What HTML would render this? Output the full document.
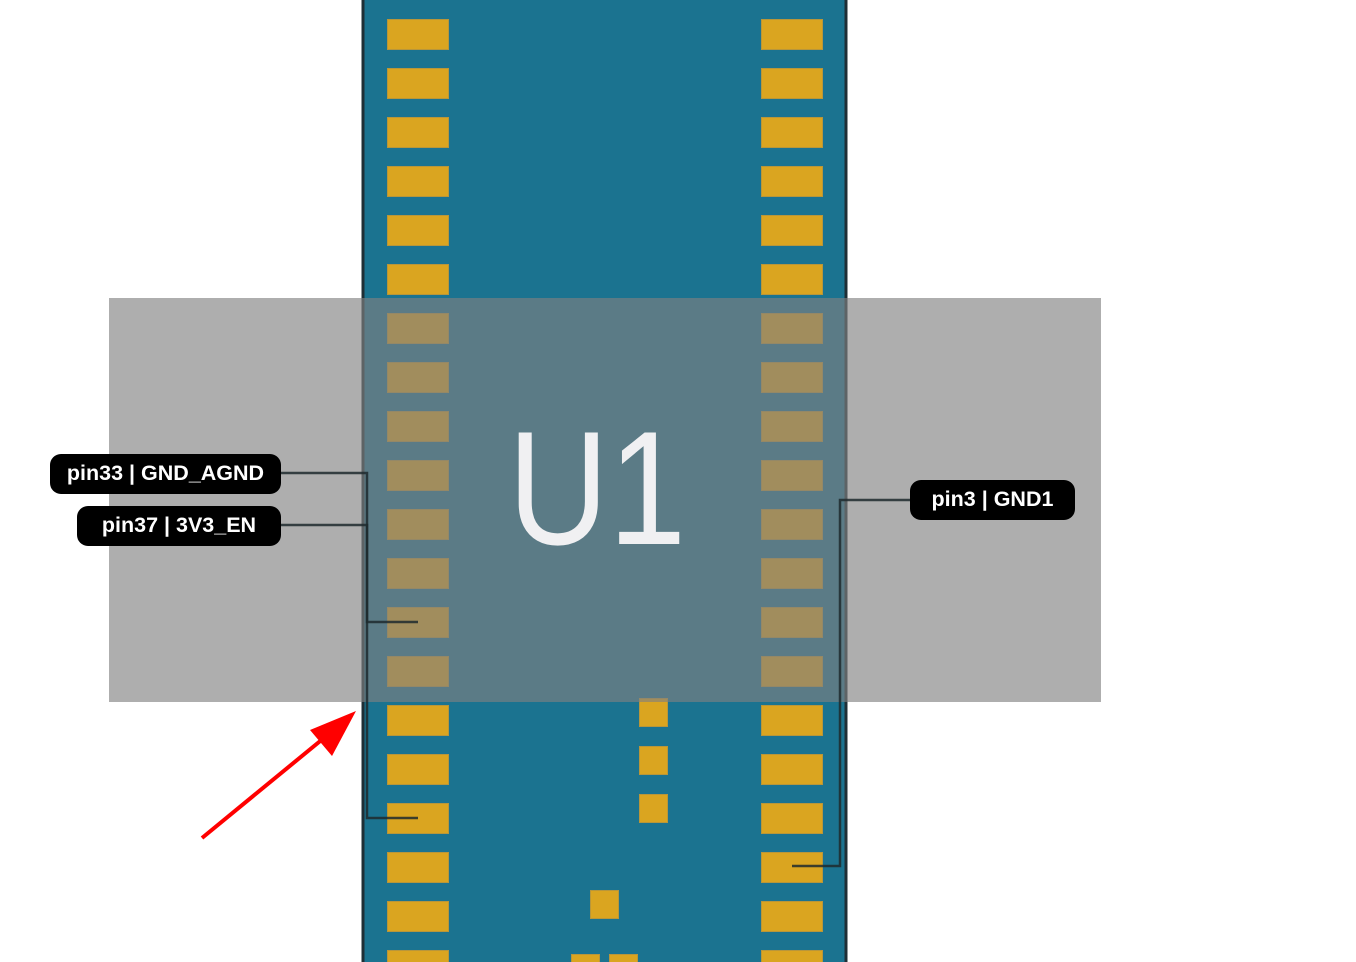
<!DOCTYPE html>
<html><head><style>
body{margin:0;width:1356px;height:962px;overflow:hidden;background:#fff;position:relative;font-family:"Liberation Sans",sans-serif}
</style></head><body>
<svg width="1356" height="962" style="position:absolute;left:0;top:0">
<rect x="363" y="-5" width="483" height="980" fill="#1b7390" stroke="#1f2f36" stroke-width="3"/>
<g fill="#daa520" stroke="#b8963a" stroke-width="1">
<rect x="387.5" y="19.5" width="61" height="30"/><rect x="761.5" y="19.5" width="61" height="30"/>
<rect x="387.5" y="68.5" width="61" height="30"/><rect x="761.5" y="68.5" width="61" height="30"/>
<rect x="387.5" y="117.5" width="61" height="30"/><rect x="761.5" y="117.5" width="61" height="30"/>
<rect x="387.5" y="166.5" width="61" height="30"/><rect x="761.5" y="166.5" width="61" height="30"/>
<rect x="387.5" y="215.5" width="61" height="30"/><rect x="761.5" y="215.5" width="61" height="30"/>
<rect x="387.5" y="264.5" width="61" height="30"/><rect x="761.5" y="264.5" width="61" height="30"/>
<rect x="387.5" y="313.5" width="61" height="30"/><rect x="761.5" y="313.5" width="61" height="30"/>
<rect x="387.5" y="362.5" width="61" height="30"/><rect x="761.5" y="362.5" width="61" height="30"/>
<rect x="387.5" y="411.5" width="61" height="30"/><rect x="761.5" y="411.5" width="61" height="30"/>
<rect x="387.5" y="460.5" width="61" height="30"/><rect x="761.5" y="460.5" width="61" height="30"/>
<rect x="387.5" y="509.5" width="61" height="30"/><rect x="761.5" y="509.5" width="61" height="30"/>
<rect x="387.5" y="558.5" width="61" height="30"/><rect x="761.5" y="558.5" width="61" height="30"/>
<rect x="387.5" y="607.5" width="61" height="30"/><rect x="761.5" y="607.5" width="61" height="30"/>
<rect x="387.5" y="656.5" width="61" height="30"/><rect x="761.5" y="656.5" width="61" height="30"/>
<rect x="387.5" y="705.5" width="61" height="30"/><rect x="761.5" y="705.5" width="61" height="30"/>
<rect x="387.5" y="754.5" width="61" height="30"/><rect x="761.5" y="754.5" width="61" height="30"/>
<rect x="387.5" y="803.5" width="61" height="30"/><rect x="761.5" y="803.5" width="61" height="30"/>
<rect x="387.5" y="852.5" width="61" height="30"/><rect x="761.5" y="852.5" width="61" height="30"/>
<rect x="387.5" y="901.5" width="61" height="30"/><rect x="761.5" y="901.5" width="61" height="30"/>
<rect x="387.5" y="950.5" width="61" height="30"/><rect x="761.5" y="950.5" width="61" height="30"/>
<rect x="639.5" y="698.5" width="28" height="28"/>
<rect x="639.5" y="746.5" width="28" height="28"/>
<rect x="639.5" y="794.5" width="28" height="28"/>
<rect x="590.5" y="890.5" width="28" height="28"/>
<rect x="571.5" y="954.5" width="28" height="28"/>
<rect x="609.5" y="954.5" width="28" height="28"/>
</g>
<rect x="109" y="298" width="992" height="404" fill="rgb(128,128,128)" fill-opacity="0.64"/>
<text transform="translate(597,544) scale(0.86,1)" x="0" y="0" text-anchor="middle" font-family="Liberation Sans" font-size="162" fill="#f0f0f2">U1</text>
<g fill="none" stroke="#1e2a2e" stroke-opacity="0.85" stroke-width="2.5">
<polyline points="281,473 367,473 367,622 418,622"/>
<polyline points="281,525 367,525 367,818 418,818"/>
<polyline points="910,500 840,500 840,866 792,866"/>
</g>
<line x1="202" y1="838" x2="330" y2="733" stroke="#f00" stroke-width="4"/>
<polygon points="356,711 310,730 332,756" fill="#f00"/>
<g font-family="Liberation Sans" font-weight="bold" font-size="21.5" fill="#fff">
<rect x="50" y="454" width="231" height="40" rx="11" fill="#000"/>
<text x="165.5" y="480" text-anchor="middle">pin33 | GND_AGND</text>
<rect x="77" y="506" width="204" height="40" rx="11" fill="#000"/>
<text x="179" y="532" text-anchor="middle">pin37 | 3V3_EN</text>
<rect x="910" y="480" width="165" height="40" rx="11" fill="#000"/>
<text x="992.5" y="506" text-anchor="middle">pin3 | GND1</text>
</g>
</svg>
</body></html>
